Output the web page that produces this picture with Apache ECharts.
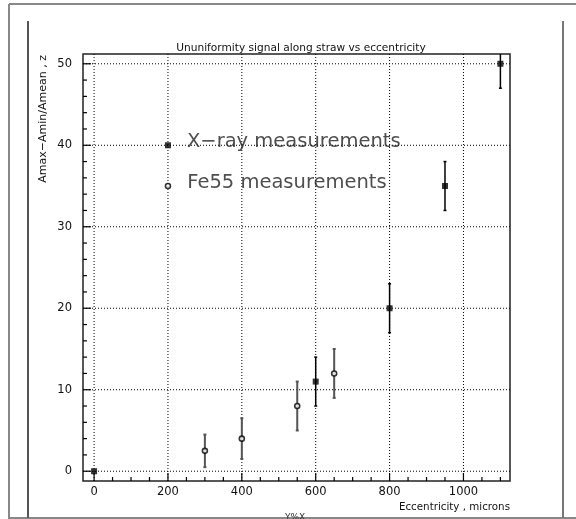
<!DOCTYPE html>
<html>
<head>
<meta charset="utf-8">
<script src="https://cdn.jsdelivr.net/npm/echarts@6/dist/echarts.min.js"></script>
<style>
html,body{margin:0;padding:0;background:#fff;}
#chart{width:576px;height:519px;}
</style>
</head>
<body>
<div id="chart"></div>
<script>
// ---- data ----
const titleText = 'Ununiformity signal along straw vs eccentricity';
const xAxisName = 'Eccentricity , microns';
const yAxisName = 'Amax\u2212Amin/Amean , z';
const footerText = 'Y%X';

const xrayX = [0, 600, 800, 950, 1100];
const xrayY = [0, 11, 20, 35, 50];
const xrayErr = [0, 3, 3, 3, 3];

const fe55X = [300, 400, 550, 650];
const fe55Y = [2.5, 4, 8, 12];
const fe55Err = [2, 2.5, 3, 3];

const legendLabels = ['X\u2212ray measurements', 'Fe55 measurements'];
const legendX = [200, 200];
const legendY = [40, 35];

const xTicksMajor = [0, 200, 400, 600, 800, 1000];
const xTicksMinor = [50,100,150,250,300,350,450,500,550,650,700,750,850,900,950,1050,1100];
const yTicksMajor = [0, 10, 20, 30, 40, 50];
const yTicksMinor = [2,4,6,8,12,14,16,18,22,24,26,28,32,34,36,38,42,44,46,48];

const xMin = -30, xMax = 1126;
const yMin = -1.2, yMax = 51.2;

// ---- rendering ----
const chart = echarts.init(document.getElementById('chart'), null, {renderer: 'canvas'});
const FONT = 'DejaVu Sans';

function vLineRender(kind) {
  return function (params, api) {
    const cs = params.coordSys;
    const p = api.coord([api.value(0), 0]);
    const bottom = cs.y + cs.height;
    let shape, style;
    if (kind === 'grid') {
      shape = {x1: p[0], y1: cs.y, x2: p[0], y2: bottom};
      style = {stroke: '#000', lineWidth: 1, lineDash: [1, 2]};
    } else {
      const len = kind === 'major' ? 8 : 4;
      shape = {x1: p[0], y1: bottom, x2: p[0], y2: bottom - len};
      style = {stroke: '#000', lineWidth: 1.2};
    }
    return {type: 'line', shape: shape, style: style, silent: true};
  };
}
function hLineRender(kind) {
  return function (params, api) {
    const cs = params.coordSys;
    const p = api.coord([0, api.value(1)]);
    let shape, style;
    if (kind === 'grid') {
      shape = {x1: cs.x, y1: p[1], x2: cs.x + cs.width, y2: p[1]};
      style = {stroke: '#000', lineWidth: 1, lineDash: [1, 2]};
    } else {
      const len = kind === 'major' ? 8 : 4;
      shape = {x1: cs.x, y1: p[1], x2: cs.x + len, y2: p[1]};
      style = {stroke: '#000', lineWidth: 1.2};
    }
    return {type: 'line', shape: shape, style: style, silent: true};
  };
}
function errRender(color, width) {
  return function (params, api) {
    const x = api.value(0), y = api.value(1), e = api.value(2);
    if (!e) return {type: 'group', children: []};
    const top = api.coord([x, y + e]);
    const bot = api.coord([x, y - e]);
    const st = {stroke: color, lineWidth: width};
    return {
      type: 'group',
      children: [
        {type: 'line', shape: {x1: top[0], y1: top[1], x2: bot[0], y2: bot[1]}, style: st},
        {type: 'line', shape: {x1: top[0] - 1.5, y1: top[1], x2: top[0] + 1.5, y2: top[1]}, style: st},
        {type: 'line', shape: {x1: bot[0] - 1.5, y1: bot[1], x2: bot[0] + 1.5, y2: bot[1]}, style: st}
      ]
    };
  };
}

const series = [
  {type: 'custom', renderItem: vLineRender('grid'), data: xTicksMajor.map(v => [v, 0]), clip: true, z: 1, silent: true},
  {type: 'custom', renderItem: hLineRender('grid'), data: yTicksMajor.map(v => [0, v]), clip: true, z: 1, silent: true},
  {type: 'custom', renderItem: vLineRender('major'), data: xTicksMajor.map(v => [v, 0]), z: 2, silent: true},
  {type: 'custom', renderItem: vLineRender('minor'), data: xTicksMinor.map(v => [v, 0]), z: 2, silent: true},
  {type: 'custom', renderItem: hLineRender('major'), data: yTicksMajor.map(v => [0, v]), z: 2, silent: true},
  {type: 'custom', renderItem: hLineRender('minor'), data: yTicksMinor.map(v => [0, v]), z: 2, silent: true},
  {type: 'custom', name: 'X-ray err', renderItem: errRender('#000', 1.5),
   data: xrayX.map((x, i) => [x, xrayY[i], xrayErr[i]]), clip: true, z: 3},
  {type: 'custom', name: 'Fe55 err', renderItem: errRender('#555', 2),
   data: fe55X.map((x, i) => [x, fe55Y[i], fe55Err[i]]), clip: true, z: 3},
  {type: 'scatter', name: 'X-ray', symbol: 'rect', symbolSize: 6,
   itemStyle: {color: '#000'}, data: xrayX.map((x, i) => [x, xrayY[i]]), z: 5, clip: false},
  {type: 'scatter', name: 'Fe55', symbol: 'circle', symbolSize: 5,
   itemStyle: {color: '#fff', borderColor: '#000', borderWidth: 1.6}, data: fe55X.map((x, i) => [x, fe55Y[i]]), z: 5},
  {type: 'scatter', name: 'legend', z: 5,
   data: legendX.map((x, i) => ({
     value: [x, legendY[i]],
     name: legendLabels[i],
     symbol: i === 0 ? 'rect' : 'circle',
     symbolSize: i === 0 ? 6 : 5,
     itemStyle: i === 0 ? {color: '#000'} : {color: '#fff', borderColor: '#000', borderWidth: 1.6}
   })),
   label: {show: true, position: 'right', distance: 16, offset: [0, -3], formatter: p => p.name,
     fontFamily: FONT, fontSize: 19.5, color: '#222'}}
];

const option = {
  animation: false,
  backgroundColor: '#fff',
  title: {
    text: titleText, left: 296, top: 38, textAlign: 'center',
    textStyle: {fontFamily: FONT, fontSize: 10.6, fontWeight: 'normal', color: '#111'}
  },
  grid: {left: 83, right: 66, top: 54, bottom: 38, show: true, borderColor: '#222', borderWidth: 1.5, backgroundColor: 'transparent'},
  xAxis: {
    type: 'value', min: xMin, max: xMax,
    axisLine: {show: false}, axisTick: {show: false}, splitLine: {show: false},
    axisLabel: {customValues: xTicksMajor, formatter: v => String(v), fontFamily: FONT, fontSize: 11.5, color: '#111', margin: 5}
  },
  yAxis: {
    type: 'value', min: yMin, max: yMax,
    axisLine: {show: false}, axisTick: {show: false}, splitLine: {show: false},
    axisLabel: {customValues: yTicksMajor, formatter: v => String(v), fontFamily: FONT, fontSize: 11.5, color: '#111', margin: 11}
  },
  graphic: [
    {type: 'line', shape: {x1: 9, y1: 4, x2: 576, y2: 4}, style: {stroke: '#888', lineWidth: 2}, silent: true},
    {type: 'line', shape: {x1: 9, y1: 4, x2: 9, y2: 519}, style: {stroke: '#888', lineWidth: 2}, silent: true},
    {type: 'line', shape: {x1: 9, y1: 518, x2: 576, y2: 518}, style: {stroke: '#888', lineWidth: 2}, silent: true},
    {type: 'line', shape: {x1: 28, y1: 21, x2: 28, y2: 518}, style: {stroke: '#555', lineWidth: 2}, silent: true},
    {type: 'line', shape: {x1: 563, y1: 21, x2: 563, y2: 518}, style: {stroke: '#777', lineWidth: 2}, silent: true},
    {type: 'text', x: 43, y: 55, rotation: Math.PI / 2,
     style: {text: yAxisName, fontFamily: FONT, fontSize: 11, fill: '#111', align: 'right', verticalAlign: 'middle'}},
    {type: 'text', x: 510, y: 507,
     style: {text: xAxisName, fontFamily: FONT, fontSize: 10.3, fill: '#111', align: 'right', verticalAlign: 'middle'}},
    {type: 'text', x: 295, y: 513,
     style: {text: footerText, fontFamily: FONT, fontSize: 9, fill: '#333', align: 'center', verticalAlign: 'top'}}
  ],
  series: series
};
chart.setOption(option);
</script>
</body>
</html>
